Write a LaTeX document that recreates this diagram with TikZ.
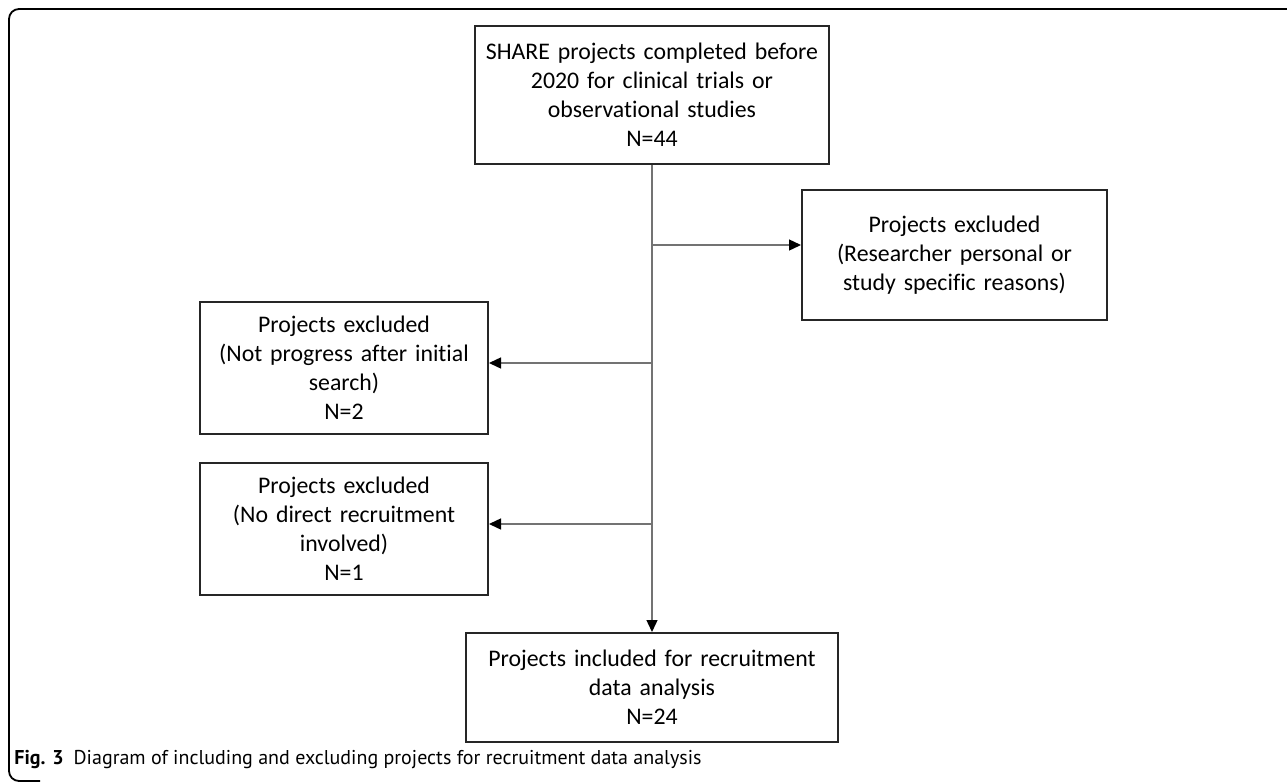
\documentclass[tikz,border=0pt]{standalone}
\usepackage{fontspec}
\usepackage{graphicx}
\setmainfont{Carlito}[Ligatures={TeX,NoCommon}]
\newfontfamily\capfont{PT Sans}
\usetikzlibrary{arrows.meta}
\tikzset{
  box/.style={draw=black!85, line width=1pt, align=center, inner sep=0pt,
    font=\fontsize{11.9}{14.5}\selectfont},
  link/.style={draw=black!55, line width=0.7pt},
  linkarrow/.style={link, -{Triangle[length=6pt,width=5.5pt,color=black]}},
}
\begin{document}
\begin{tikzpicture}[x=0.5pt,y=-0.5pt]
  \useasboundingbox (0,0) rectangle (1287,782);
  % outer frame
  \draw[line width=0.9pt, rounded corners=5pt] (1295,9) -- (9,9) -- (9,781) -- (40,781);
  % boxes
  \node[box, text width=177pt, minimum height=69pt] (share) at (652,95)
    {SHARE projects completed before\\2020 for clinical trials or\\observational studies\\N=44};
  \node[box, text width=152.5pt, minimum height=65pt] (exclA) at (954.5,255)
    {Projects excluded\\(Researcher personal or\\study specific reasons)};
  \node[box, text width=144pt, minimum height=66pt] (exclB) at (344,368)
    {Projects excluded\\(Not progress after initial\\search)\\N=2};
  \node[box, text width=144pt, minimum height=66pt] (exclC) at (344,528.5)
    {Projects excluded\\(No direct recruitment\\involved)\\N=1};
  \node[box, text width=186pt, minimum height=54.5pt] (incl) at (652,687.5)
    {Projects included for recruitment\\data analysis\\N=24};
  % caption
  \node[anchor=west, inner sep=0pt, font=\capfont\fontsize{10}{12}\selectfont] (caption) at (14,760)
    {\textbf{Fig. 3}\enspace Diagram of including and excluding projects for recruitment data analysis};
  % connectors
  \coordinate (jA) at (652,245);
  \coordinate (jB) at (652,363);
  \coordinate (jC) at (652,524);
  \draw[linkarrow] (share.south) -- (incl.north);
  \draw[linkarrow] (jA) -- (jA -| exclA.west);
  \draw[linkarrow] (jB) -- (jB -| exclB.east);
  \draw[linkarrow] (jC) -- (jC -| exclC.east);
\end{tikzpicture}
\end{document}
